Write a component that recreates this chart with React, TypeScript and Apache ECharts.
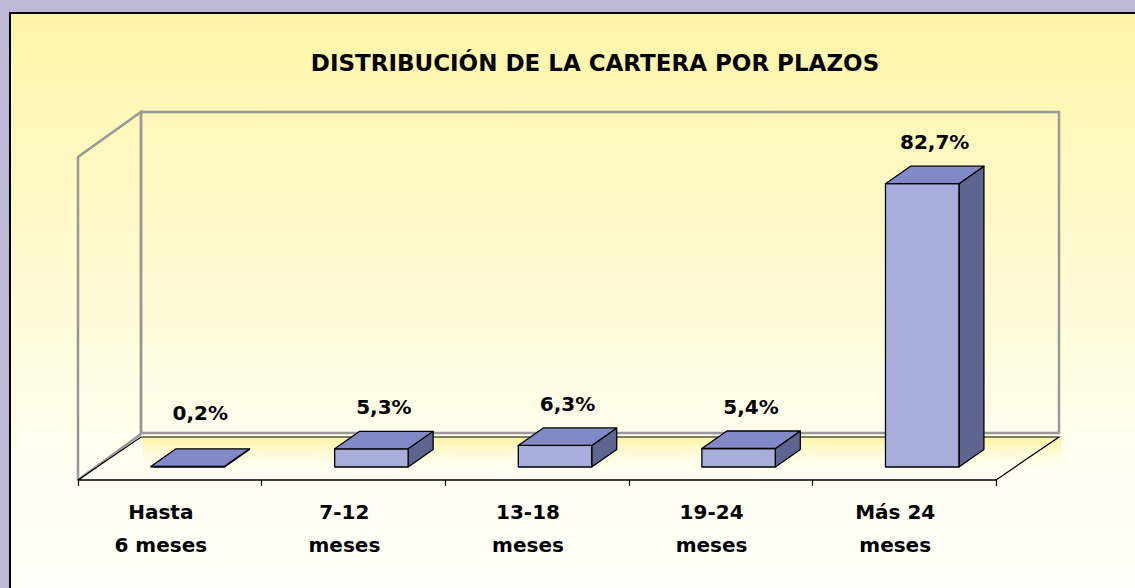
import React, { useEffect, useRef } from "react";
import * as echarts from "echarts";

// ---- data ----
const categories = ["Hasta\n6 meses", "7-12\nmeses", "13-18\nmeses", "19-24\nmeses", "Más 24\nmeses"];
const shares = [0.2, 5.3, 6.3, 5.4, 82.7];
const titleText = "DISTRIBUCIÓN DE LA CARTERA POR PLAZOS";

// ---- layout ----
const W = 1135;
const H = 588;
const PLOT_L = 78;
const PLOT_R = 996;
const PLOT_B = 480;
const PLOT_T = 137.4;
const FLOOR_DX = 63;
const FLOOR_DY = 43;
const WALL_TOP = 112;
const WALL_BOTTOM = 433;
const BAR_SHIFT_X = 18;
const BAR_LIFT = 13;
const BAR_DX = 25;
const BAR_DY = 17.5;
const FONT = '"DejaVu Sans", sans-serif';

const fmt = (v: number) => v.toFixed(1).replace(".", ",") + "%";

const renderItem = (_params: any, api: any) => {
  const idx = api.value(0);
  const val = api.value(1);
  const base = api.coord([idx, 0]);
  const top = api.coord([idx, val]);
  const bw = api.size([1, 0])[0];
  const fw = bw * 0.4;
  const x0 = base[0] + BAR_SHIFT_X - fw / 2;
  const x1 = x0 + fw;
  const yb = base[1] - BAR_LIFT;
  const yt = top[1] - BAR_LIFT;
  const st = { stroke: "#000", lineWidth: 1.3, lineJoin: "round" };
  return {
    type: "group",
    children: [
      {
        type: "polygon",
        shape: { points: [[x1, yb], [x1 + BAR_DX, yb - BAR_DY], [x1 + BAR_DX, yt - BAR_DY], [x1, yt]] },
        style: { fill: "#5E6591", ...st },
      },
      {
        type: "rect",
        shape: { x: x0, y: yt, width: fw, height: Math.max(yb - yt, 0) },
        style: { fill: "#A9ADDB", ...st },
      },
      {
        type: "polygon",
        shape: { points: [[x0, yt], [x1, yt], [x1 + BAR_DX, yt - BAR_DY], [x0 + BAR_DX, yt - BAR_DY]] },
        style: { fill: "#8189C6", ...st },
      },
      {
        type: "text",
        style: {
          text: fmt(val),
          x: (x0 + x1) / 2 + BAR_DX / 2,
          y: Math.min(yt - BAR_DY - 24, yb - 54),
          align: "center",
          verticalAlign: "middle",
          fontSize: 20,
          fontWeight: "bold",
          fontFamily: FONT,
          fill: "#000",
        },
      },
    ],
  };
};

export default function App() {
  const ref = useRef<HTMLDivElement>(null);
  useEffect(() => {
    document.body.style.margin = "0";
    if (!ref.current) return;
    const chart = echarts.init(ref.current, null, { renderer: "svg" });
    const wallStroke = { stroke: "#999999", lineWidth: 2.5, fill: "none" };
    chart.setOption({
      animation: false,
      backgroundColor: "#BDB8D6",
      title: {
        text: titleText,
        left: 590,
        top: 46,
        textAlign: "center",
        textStyle: { fontFamily: FONT, fontWeight: "bold", fontSize: 23, color: "#000" },
      },
      grid: { left: PLOT_L, right: W - PLOT_R, top: PLOT_T, bottom: H - PLOT_B, containLabel: false },
      xAxis: {
        type: "category",
        data: categories,
        boundaryGap: true,
        axisLine: { show: true, lineStyle: { color: "#000", width: 1.5 } },
        axisTick: { show: true, interval: 0, inside: false, length: 6, lineStyle: { color: "#000", width: 1.2 } },
        axisLabel: {
          interval: 0,
          margin: 15,
          fontSize: 20,
          lineHeight: 33,
          fontWeight: "bold",
          fontFamily: FONT,
          color: "#000",
          padding: [0, 18, 0, 0],
        },
        z: 3,
      },
      yAxis: { type: "value", min: 0, max: 100, show: false },
      graphic: [
        {
          type: "rect",
          z: -10,
          shape: { x: 10, y: 13, width: W + 10, height: H + 10 },
          style: {
            stroke: "#000",
            lineWidth: 2,
            fill: {
              type: "linear", x: 0, y: 0, x2: 0, y2: 1,
              colorStops: [
                { offset: 0, color: "#FFF5A8" },
                { offset: 0.78, color: "#FFFEF4" },
                { offset: 1, color: "#FFFFF8" },
              ],
            },
          },
        },
        {
          type: "rect",
          z: -9,
          shape: { x: PLOT_L + FLOOR_DX + 2, y: PLOT_B - FLOOR_DY, width: PLOT_R - PLOT_L, height: FLOOR_DY - 4 },
          style: {
            fill: {
              type: "linear", x: 0, y: 0, x2: 0, y2: 1,
              colorStops: [
                { offset: 0, color: "#FFF3A0" },
                { offset: 1, color: "rgba(255,255,250,0)" },
              ],
            },
          },
        },
        {
          type: "polyline",
          z: -8,
          shape: { points: [[PLOT_L, PLOT_B], [PLOT_L, WALL_TOP + 45], [PLOT_L + FLOOR_DX, WALL_TOP], [PLOT_L + FLOOR_DX, WALL_BOTTOM]] },
          style: wallStroke,
        },
        {
          type: "rect",
          z: -8,
          shape: { x: PLOT_L + FLOOR_DX, y: WALL_TOP, width: PLOT_R - PLOT_L, height: WALL_BOTTOM - WALL_TOP },
          style: wallStroke,
        },
        {
          type: "line",
          z: -8,
          shape: { x1: PLOT_L, y1: PLOT_B, x2: PLOT_L + FLOOR_DX, y2: WALL_BOTTOM + 1 },
          style: { stroke: "#999999", lineWidth: 2.5 },
        },
        {
          type: "polyline",
          z: -7,
          shape: {
            points: [
              [PLOT_L, PLOT_B],
              [PLOT_L + FLOOR_DX, PLOT_B - FLOOR_DY],
              [PLOT_R + FLOOR_DX, PLOT_B - FLOOR_DY],
              [PLOT_R, PLOT_B],
            ],
          },
          style: { stroke: "#000", lineWidth: 1.2, fill: "none" },
        },
      ],
      series: [
        {
          type: "custom",
          renderItem,
          encode: { x: 0, y: 1 },
          data: shares.map((v, i) => [i, v]),
          z: 5,
        },
      ],
    });
    return () => chart.dispose();
  }, []);
  return <div ref={ref} style={{ width: W, height: H }} />;
}
